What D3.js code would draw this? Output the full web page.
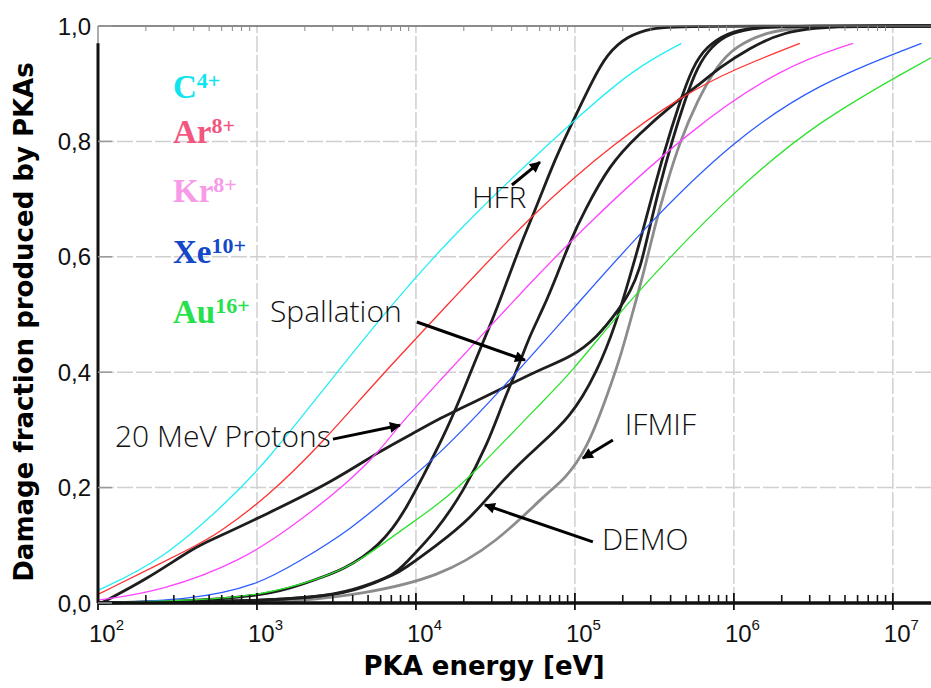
<!DOCTYPE html>
<html>
<head>
<meta charset="utf-8">
<script src="https://cdn.jsdelivr.net/npm/d3@7"></script>
<style>
  body { margin: 0; background: #fff; }
  svg { display: block; }
</style>
</head>
<body>
<div id="vis"></div>
<script>
// Damage fraction vs PKA energy, curves
// every point is [log10(E / eV), fraction]

const FRAME_WIDTH = 931;
const FRAME_HEIGHT = 688;

// axis ticks
const DECADES = [2, 3, 4, 5, 6, 7];
const Y_TICKS = [0, 0.2, 0.4, 0.6, 0.8, 1.0];
const Y_LABELS = ["0,0", "0,2", "0,4", "0,6", "0,8", "1,0"];

// ion curves (thin, coloured)
const ION_NAMES = ["C", "Ar", "Kr", "Xe", "Au"];
const ION_CHARGES = ["4+", "8+", "8+", "10+", "16+"];

const C4 = [[2.0, 0.022], [2.40, 0.073], [2.82, 0.177], [3.06, 0.245], [3.46, 0.385],
            [3.855, 0.52], [4.21, 0.63], [4.635, 0.745], [5.01, 0.84], [5.365, 0.925], [5.67, 0.97]];
const AR8 = [[2.0, 0.015], [2.64, 0.102], [2.75, 0.12], [3.06, 0.182], [3.42, 0.28],
             [3.75, 0.385], [4.21, 0.52], [4.75, 0.68], [5.26, 0.80], [5.68, 0.88],
             [6.0, 0.925], [6.415, 0.97]];
const KR8 = [[2.0, 0.005], [2.39, 0.02], [2.91, 0.073], [3.27, 0.142], [3.58, 0.211],
             [3.77, 0.263], [3.90, 0.31], [4.15, 0.385], [4.40, 0.46], [4.67, 0.54],
             [5.05, 0.65], [5.72, 0.82], [6.31, 0.93], [6.75, 0.97]];
const XE10 = [[2.0, 0.0], [2.58, 0.005], [3.0, 0.03], [3.27, 0.073], [3.58, 0.125],
              [3.90, 0.2], [4.15, 0.258], [4.55, 0.373], [5.03, 0.523], [5.47, 0.66],
              [5.99, 0.80], [6.52, 0.90], [7.18, 0.97]];
const AU16 = [[2.0, 0.0], [2.64, 0.005], [3.0, 0.012], [3.42, 0.043], [3.65, 0.073],
              [3.90, 0.125], [4.15, 0.172], [4.38, 0.229], [4.78, 0.345], [4.97, 0.397],
              [5.30, 0.51], [5.60, 0.60], [5.99, 0.71], [6.52, 0.835], [7.24, 0.945]];

// irradiation spectra (thick, black / grey)
const HFR = [[2.0, 0], [2.58, 0.003], [3.0, 0.012], [3.21, 0.025], [3.415, 0.045],
             [3.55, 0.06], [3.67, 0.08], [3.76, 0.1], [3.85, 0.127], [3.94, 0.165],
             [4.04, 0.217], [4.17, 0.286], [4.28, 0.355], [4.38, 0.425], [4.47, 0.483],
             [4.55, 0.54], [4.67, 0.63], [4.74, 0.674], [4.84, 0.745], [4.91, 0.79],
             [5.01, 0.848], [5.11, 0.905], [5.20, 0.951], [5.33, 0.983], [5.49, 0.997],
             [5.66, 1.0], [7.24, 1.0]];
const SPALLATION = [[2.0, 0], [3.0, 0.003], [3.46, 0.012], [3.66, 0.027], [3.87, 0.05],
                    [3.92, 0.065], [4.13, 0.125], [4.30, 0.194], [4.45, 0.275], [4.55, 0.35],
                    [4.64, 0.407], [4.72, 0.466], [4.80, 0.51], [4.89, 0.57], [4.97, 0.627],
                    [5.06, 0.68], [5.22, 0.76], [5.39, 0.81], [5.64, 0.87], [5.79, 0.90],
                    [5.91, 0.928], [6.10, 0.962], [6.31, 0.99], [6.60, 1.0], [7.24, 1.0]];
const PROTONS = [[2.02, 0], [2.30, 0.04], [2.61, 0.097], [2.72, 0.11], [3.06, 0.154],
                 [3.48, 0.211], [3.77, 0.263], [4.01, 0.298], [4.15, 0.32], [4.34, 0.345],
                 [4.55, 0.373], [4.78, 0.405], [4.97, 0.425], [5.14, 0.46], [5.28, 0.51],
                 [5.35, 0.54], [5.41, 0.58], [5.45, 0.627], [5.53, 0.72], [5.61, 0.80],
                 [5.69, 0.87], [5.77, 0.93], [5.86, 0.965], [5.97, 0.988], [6.16, 0.998],
                 [6.42, 1.0], [7.24, 1.0]];
const DEMO = [[2.0, 0], [3.0, 0.003], [3.46, 0.012], [3.66, 0.025], [3.87, 0.05],
              [3.92, 0.058], [4.13, 0.10], [4.34, 0.145], [4.55, 0.215], [4.76, 0.27],
              [4.97, 0.32], [5.14, 0.40], [5.26, 0.485], [5.35, 0.57], [5.41, 0.627],
              [5.48, 0.70], [5.57, 0.79], [5.65, 0.86], [5.74, 0.93], [5.83, 0.965],
              [5.96, 0.988], [6.10, 0.997], [6.35, 1.0], [7.24, 1.0]];
const IFMIF = [[2.0, 0], [3.0, 0], [3.24, 0.003], [3.66, 0.015], [4.15, 0.045],
               [4.51, 0.105], [4.82, 0.19], [4.94, 0.215], [5.08, 0.27], [5.19, 0.35],
               [5.28, 0.42], [5.36, 0.50], [5.44, 0.58], [5.50, 0.65], [5.57, 0.72],
               [5.66, 0.80], [5.77, 0.87], [5.89, 0.93], [6.01, 0.965], [6.21, 0.99],
               [6.42, 0.998], [6.73, 1.0], [7.24, 1.0]];

// annotation labels and arrows (data coordinates)
const NOTE_TEXT = ["HFR", "Spallation", "20 MeV Protons", "IFMIF", "DEMO"];
const NOTE_AT = [[4.352, 0.685], [3.082, 0.487], [2.107, 0.270], [5.314, 0.291], [5.170, 0.092]];
const ARROW_FROM = [[4.604, 0.7245], [4.006, 0.487], [3.478, 0.284], [5.239, 0.2825], [5.113, 0.106]];
const ARROW_TO = [[4.78, 0.764], [4.686, 0.421], [3.899, 0.308], [5.05, 0.251], [4.434, 0.17]];

// ---------------------------------------------------------------
const SVG = d3.select("#vis")
              .append("svg")
                .attr("width", FRAME_WIDTH)
                .attr("height", FRAME_HEIGHT);

const X_SCALE = d3.scaleLog()
                  .domain([1e2, Math.pow(10, 7.24)])
                  .range([98, 931]);
const Y_SCALE = d3.scaleLinear()
                  .domain([0, 1])
                  .range([603, 26]);

const px = (d) => X_SCALE(Math.pow(10, d[0]));
const py = (d) => Y_SCALE(d[1]);

// grid
const GRID = SVG.append("g")
                .attr("stroke", "#d0d0d0")
                .attr("stroke-width", 1.5)
                .attr("stroke-dasharray", "16,3");
GRID.selectAll(".vgrid")
    .data(DECADES.slice(1))
    .enter()
    .append("line")
      .attr("x1", (d) => X_SCALE(Math.pow(10, d)))
      .attr("x2", (d) => X_SCALE(Math.pow(10, d)))
      .attr("y1", Y_SCALE(0))
      .attr("y2", Y_SCALE(1));
GRID.selectAll(".hgrid")
    .data(Y_TICKS.slice(1, -1))
    .enter()
    .append("line")
      .attr("x1", X_SCALE.range()[0])
      .attr("x2", X_SCALE.range()[1])
      .attr("y1", (d) => Y_SCALE(d))
      .attr("y2", (d) => Y_SCALE(d));

// curves
const LINE = d3.line()
               .x(px)
               .y(py)
               .curve(d3.curveBasis);

const BLACK_SERIES = [HFR, SPALLATION, PROTONS, DEMO];
SVG.append("path")
    .datum(IFMIF)
    .attr("d", LINE)
    .attr("fill", "none")
    .attr("stroke", "#8c8c8c")
    .attr("stroke-width", 2.8);
SVG.selectAll(".spectrum")
    .data(BLACK_SERIES)
    .enter()
    .append("path")
      .attr("d", LINE)
      .attr("fill", "none")
      .attr("stroke", "#1e1e1e")
      .attr("stroke-width", 2.8)
      .attr("stroke-linejoin", "round");

const ION_SERIES = [C4, AR8, KR8, XE10, AU16];
const LINE_COLORS = ["#22eef6", "#ff3232", "#ff44ff", "#2c5cff", "#2ee22e"];
SVG.selectAll(".ion")
    .data(ION_SERIES)
    .enter()
    .append("path")
      .attr("d", LINE)
      .attr("fill", "none")
      .attr("stroke", (d, i) => LINE_COLORS[i])
      .attr("stroke-width", 1.3);

// frame and axes
const AXES = SVG.append("g");
AXES.append("line") // top frame
    .attr("x1", X_SCALE.range()[0]).attr("x2", X_SCALE.range()[1])
    .attr("y1", Y_SCALE(1)).attr("y2", Y_SCALE(1))
    .attr("stroke", "#666").attr("stroke-width", 1.5);
AXES.append("line") // thin left edge
    .attr("x1", 98).attr("x2", 98)
    .attr("y1", Y_SCALE(1)).attr("y2", Y_SCALE(0))
    .attr("stroke", "#777").attr("stroke-width", 1.2);
AXES.append("line") // thick left axis of the overlaid plot
    .attr("x1", 98).attr("x2", 98)
    .attr("y1", Y_SCALE(0.97)).attr("y2", Y_SCALE(0))
    .attr("stroke", "#111").attr("stroke-width", 3);
AXES.append("line") // bottom axis
    .attr("x1", X_SCALE.range()[0]).attr("x2", X_SCALE.range()[1])
    .attr("y1", Y_SCALE(0)).attr("y2", Y_SCALE(0))
    .attr("stroke", "#111").attr("stroke-width", 3.5);

// minor x ticks 2..9 per decade
const MINOR = [];
DECADES.forEach((n) => {
  for (let k = 2; k <= 9; k++) {
    const v = k * Math.pow(10, n);
    if (v < X_SCALE.domain()[1]) MINOR.push(v);
  }
});
AXES.selectAll(".minor")
    .data(MINOR)
    .enter()
    .append("line")
      .attr("x1", (d) => X_SCALE(d)).attr("x2", (d) => X_SCALE(d))
      .attr("y1", Y_SCALE(0)).attr("y2", Y_SCALE(0) - 8)
      .attr("stroke", "#111").attr("stroke-width", 1.6);
AXES.selectAll(".minortop")
    .data(MINOR)
    .enter()
    .append("line")
      .attr("x1", (d) => X_SCALE(d)).attr("x2", (d) => X_SCALE(d))
      .attr("y1", Y_SCALE(1)).attr("y2", Y_SCALE(1) + 5)
      .attr("stroke", "#888").attr("stroke-width", 1);
AXES.selectAll(".major")
    .data(DECADES)
    .enter()
    .append("line")
      .attr("x1", (d) => X_SCALE(Math.pow(10, d))).attr("x2", (d) => X_SCALE(Math.pow(10, d)))
      .attr("y1", Y_SCALE(0) - 10).attr("y2", Y_SCALE(0) + 7)
      .attr("stroke", "#111").attr("stroke-width", 1.8);
AXES.selectAll(".ytick")
    .data(Y_TICKS)
    .enter()
    .append("line")
      .attr("x1", 98).attr("x2", 112)
      .attr("y1", (d) => Y_SCALE(d)).attr("y2", (d) => Y_SCALE(d))
      .attr("stroke", "#999").attr("stroke-width", 1.5);

// tick labels
AXES.selectAll(".ylabel")
    .data(Y_TICKS)
    .enter()
    .append("text")
      .attr("x", 91)
      .attr("y", (d) => Y_SCALE(d) + 8.5)
      .attr("text-anchor", "end")
      .attr("font-family", "Liberation Sans, Arial, sans-serif")
      .attr("font-size", 24)
      .attr("fill", "#111")
      .text((d, i) => Y_LABELS[i]);

const XLAB = AXES.selectAll(".xlabel")
    .data(DECADES)
    .enter()
    .append("text")
      .attr("x", (d) => X_SCALE(Math.pow(10, d)) - 9)
      .attr("y", 642)
      .attr("font-family", "Liberation Sans, Arial, sans-serif")
      .attr("font-size", 24)
      .attr("fill", "#111");
XLAB.append("tspan").text("10");
XLAB.append("tspan")
    .attr("dy", -12)
    .attr("font-size", 15)
    .text((d) => d);

// axis titles
SVG.append("text")
    .attr("transform", "translate(33,322) rotate(-90)")
    .attr("text-anchor", "middle")
    .attr("font-family", "DejaVu Sans, Verdana, sans-serif")
    .attr("font-weight", "bold")
    .attr("font-size", 26)
    .attr("fill", "#000")
    .text("Damage fraction produced by PKAs");
SVG.append("text")
    .attr("x", 484)
    .attr("y", 675)
    .attr("text-anchor", "middle")
    .attr("font-family", "DejaVu Sans, Verdana, sans-serif")
    .attr("font-weight", "bold")
    .attr("font-size", 26)
    .attr("fill", "#000")
    .text("PKA energy [eV]");

// ion legend
const LEGEND_COLORS = ["#10e4ee", "#f2567e", "#f79ae8", "#1448c8", "#26e04c"];
const LEGEND_BASE = [98, 143, 202, 263, 323];
const LEG = SVG.selectAll(".legend")
    .data(ION_NAMES)
    .enter()
    .append("text")
      .attr("x", 173)
      .attr("y", (d, i) => LEGEND_BASE[i])
      .attr("font-family", "Liberation Serif, Times New Roman, serif")
      .attr("font-weight", "bold")
      .attr("font-size", 33)
      .attr("fill", (d, i) => LEGEND_COLORS[i]);
LEG.append("tspan").text((d) => d);
LEG.append("tspan")
    .attr("dy", -10)
    .attr("font-size", 22)
    .text((d, i) => ION_CHARGES[i]);

// annotations with arrows
SVG.append("defs")
   .append("marker")
     .attr("id", "head")
     .attr("viewBox", "0 0 10 10")
     .attr("refX", 9).attr("refY", 5)
     .attr("markerWidth", 15).attr("markerHeight", 11)
     .attr("markerUnits", "userSpaceOnUse")
     .attr("orient", "auto")
   .append("path")
     .attr("d", "M0,0 L10,5 L0,10 Z")
     .attr("fill", "#000");

SVG.selectAll(".arrow")
    .data(ARROW_FROM)
    .enter()
    .append("line")
      .attr("x1", (d) => px(d))
      .attr("y1", (d) => py(d))
      .attr("x2", (d, i) => px(ARROW_TO[i]))
      .attr("y2", (d, i) => py(ARROW_TO[i]))
      .attr("stroke", "#000")
      .attr("stroke-width", 3)
      .attr("marker-end", "url(#head)");

SVG.selectAll(".note")
    .data(NOTE_TEXT)
    .enter()
    .append("text")
      .attr("x", (d, i) => px(NOTE_AT[i]))
      .attr("y", (d, i) => py(NOTE_AT[i]))
      .attr("font-family", "Open Sans, DejaVu Sans, sans-serif")
      .attr("font-weight", 300)
      .attr("font-size", 30)
      .attr("fill", "#111")
      .text((d) => d);
</script>
</body>
</html>
